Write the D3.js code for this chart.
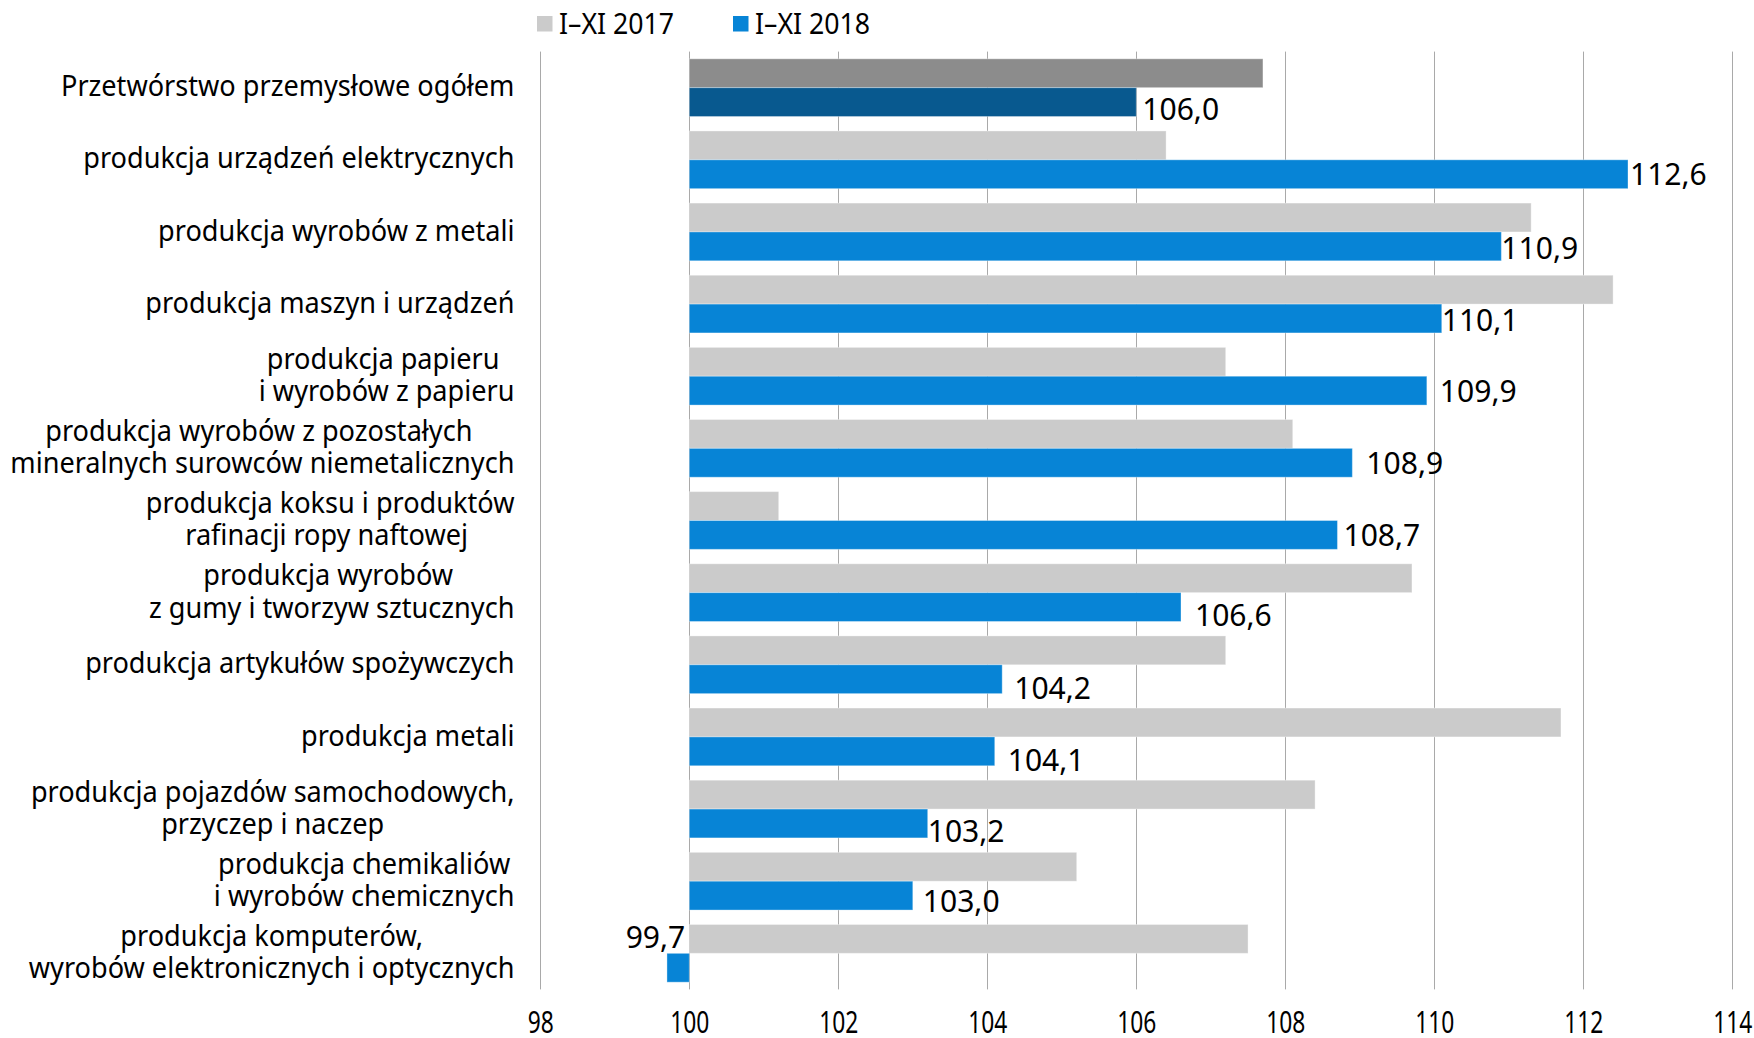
<!DOCTYPE html>
<html><head><meta charset="utf-8">
<script src="https://cdn.jsdelivr.net/npm/d3@7"></script>
<style>body{margin:0;background:#fff} text{white-space:pre}</style>
</head><body>
<svg id="chart" width="1754" height="1038"></svg>
<script>
// ---- data ----
const categories = [
  "Przetwórstwo przemysłowe ogółem",
  "produkcja urządzeń elektrycznych",
  "produkcja wyrobów z metali",
  "produkcja maszyn i urządzeń",
  "produkcja papieru \ni wyrobów z papieru",
  "produkcja wyrobów z pozostałych \nmineralnych surowców niemetalicznych",
  "produkcja koksu i produktów\nrafinacji ropy naftowej ",
  "produkcja wyrobów \nz gumy i tworzyw sztucznych",
  "produkcja artykułów spożywczych",
  "produkcja metali",
  "produkcja pojazdów samochodowych,\nprzyczep i naczep",
  "produkcja chemikaliów\ni wyrobów chemicznych",
  "produkcja komputerów,\nwyrobów elektronicznych i optycznych"
];
const seriesNames = ["I\u2013XI 2017", "I\u2013XI 2018"];
const values2017 = [107.7, 106.4, 111.3, 112.4, 107.2, 108.1, 101.2, 109.7, 107.2, 111.7, 108.4, 105.2, 107.5];
const values2018 = [106.0, 112.6, 110.9, 110.1, 109.9, 108.9, 108.7, 106.6, 104.2, 104.1, 103.2, 103.0, 99.7];
const tickValues = [98, 100, 102, 104, 106, 108, 110, 112, 114];

// ---- layout / style ----
const FONT = "'Noto Sans', 'Open Sans', sans-serif";
const colors = {g: "#cbcbcb", b: "#0784d6", gTot: "#8c8c8c", bTot: "#08598f"};
// label nudges [dx from bar end, dy from bar centre]
const labelNudge = [[6,7],[2,0],[0,1],[0,1],[13,0],[14,0],[6,0],[14,8],[12,9],[13,8],[0,7],[10,5],[null,-31]];

const svg = d3.select("#chart");
const x = d3.scaleLinear().domain([98, 114]).range([540.3, 1732.3]);
const y = d3.scaleBand().domain(d3.range(categories.length)).range([51.6, 989.4]).paddingInner(0.2).paddingOuter(0.1);
const sub = d3.scaleBand().domain([0, 1]).range([0, y.bandwidth()]);

// grid lines
svg.append("g").selectAll("line").data(tickValues).join("line")
  .attr("x1", d => Math.round(x(d)) + 0.5).attr("x2", d => Math.round(x(d)) + 0.5)
  .attr("y1", 51.6).attr("y2", 989.4)
  .attr("stroke", "#a9a9a9").attr("stroke-width", 1);

// tick labels via axis
const axis = d3.axisBottom(x).tickValues(tickValues).tickSize(0).tickPadding(0).tickFormat(d3.format("d"));
const ag = svg.append("g").attr("transform", "translate(0,1033)").call(axis);
ag.select(".domain").remove();
ag.selectAll(".tick text").attr("dy", 0).attr("y", 0).attr("x", 0)
  .attr("font-family", FONT).attr("font-size", 30)
  .attr("fill", "#000").attr("text-anchor", "middle")
  .attr("transform", "scale(0.76,1)");

// bars
const groups = svg.append("g").selectAll("g").data(categories.map((c, i) => i)).join("g")
  .attr("transform", i => `translate(0,${y(i)})`);

function barRect(sel, vals, k) {
  sel.append("rect")
    .attr("x", i => x(Math.min(100, vals[i])))
    .attr("width", i => Math.abs(x(vals[i]) - x(100)))
    .attr("y", sub(k)).attr("height", sub.bandwidth())
    .attr("fill", i => i === 0 ? (k === 0 ? colors.gTot : colors.bTot) : (k === 0 ? colors.g : colors.b))
    .attr("stroke", "rgba(255,255,255,0.35)").attr("stroke-width", 1);
}
barRect(groups, values2017, 0);
barRect(groups, values2018, 1);

// value labels
const fmt = v => v.toFixed(1).replace(".", ",");
groups.append("g")
  .attr("transform", i => {
    const n = labelNudge[i];
    const cy = sub(1) + sub.bandwidth() / 2 + n[1];
    const px = n[0] === null ? x(100) - 4 : x(values2018[i]) + n[0];
    return `translate(${px},${cy}) scale(0.97,1)`;
  })
  .append("text")
  .attr("text-anchor", i => labelNudge[i][0] === null ? "end" : "start")
  .attr("dy", "0.36em")
  .attr("font-family", FONT).attr("font-size", 31).attr("fill", "#000")
  .text(i => fmt(values2018[i]));

// category labels: block right-aligned, lines centred
const CAT_SX = 0.935, CAT_FS = 29, LINE_H = 32.4, RIGHT = 514.5;
groups.each(function(i) {
  const lines = categories[i].split("\n");
  const g = d3.select(this).append("g");
  const texts = lines.map((ln, j) => g.append("text")
    .attr("font-family", FONT).attr("font-size", CAT_FS).attr("fill", "#000")
    .attr("text-anchor", "middle").attr("dy", "0.3em")
    .attr("y", y.bandwidth() / 2 + (j - (lines.length - 1) / 2) * LINE_H)
    .text(ln));
  const maxW = d3.max(texts, t => t.node().getComputedTextLength());
  texts.forEach(t => t.attr("x", -maxW / 2));
  g.attr("transform", `translate(${RIGHT},0) scale(${CAT_SX},1)`);
});

// legend
const legend = svg.append("g").selectAll("g").data(seriesNames).join("g")
  .attr("transform", (d, k) => `translate(${k === 0 ? 537 : 733},16)`);
legend.append("rect").attr("width", 15.5).attr("height", 15.5)
  .attr("fill", (d, k) => k === 0 ? colors.g : colors.b);
legend.append("g").attr("transform", `translate(22,8) scale(0.92,1)`)
  .append("text").attr("dy", "0.36em")
  .attr("font-family", FONT).attr("font-size", CAT_FS).attr("fill", "#000")
  .text(d => d);
</script>
</body></html>
